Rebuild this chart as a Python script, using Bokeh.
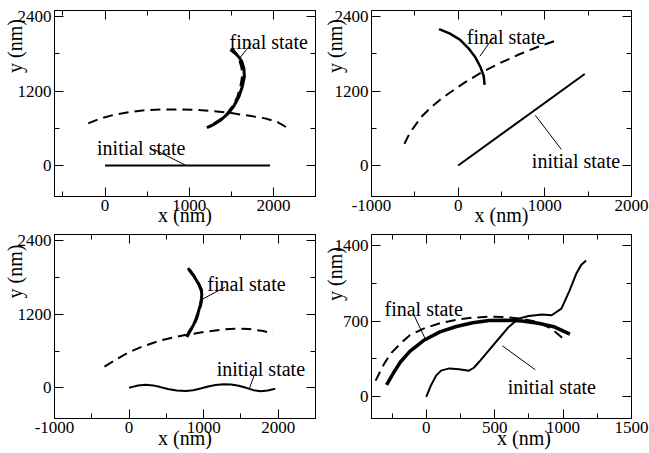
from bokeh.plotting import figure
from bokeh.models import Range1d, LinearAxis, FixedTicker, Label
from bokeh.layouts import column, row
from bokeh.embed import file_html
from bokeh.resources import INLINE

FONT = "Liberation Serif"
NB = "\u00a0"

# ---------------- data (nm) ----------------
# Panel 1 (top left)
p1_init_x = [0, 1960]
p1_init_y = [0, 0]
p1_mid_x = [-200, -50, 100, 300, 500, 700, 900, 1100, 1300, 1500, 1700, 1900, 2050, 2150]
p1_mid_y = [680, 760, 815, 865, 895, 905, 905, 895, 875, 845, 805, 760, 700, 620]
p1_final_x = [1210, 1290, 1380, 1460, 1530, 1590, 1630, 1655, 1650, 1625, 1590, 1545, 1490]
p1_final_y = [610, 660, 740, 835, 960, 1110, 1270, 1430, 1560, 1675, 1750, 1810, 1870]
p1_final2_x = [1290, 1380, 1460, 1525, 1575, 1610, 1630, 1625, 1600, 1565, 1515]
p1_final2_y = [670, 750, 850, 970, 1110, 1270, 1430, 1570, 1690, 1790, 1880]

# Panel 2 (top right)
p2_init_x = [0, 1460]
p2_init_y = [0, 1475]
p2_mid_x = [-620, -560, -500, -420, -320, -200, -60, 100, 280, 480, 700, 930, 1160]
p2_mid_y = [350, 520, 640, 790, 930, 1070, 1210, 1360, 1510, 1650, 1790, 1920, 2030]
p2_final_x = [-220, -100, 20, 120, 200, 260, 295, 305]
p2_final_y = [2200, 2130, 2030, 1890, 1740, 1580, 1440, 1300]

# Panel 3 (bottom left)
p3_init_x = [0, 60, 120, 220, 320, 420, 520, 640, 760, 860, 960, 1060, 1160, 1270, 1370, 1470, 1570, 1670, 1760, 1860, 1960]
p3_init_y = [0, 20, 38, 50, 40, 12, -20, -45, -50, -38, -10, 22, 45, 58, 55, 35, 0, -38, -55, -45, -15]
p3_mid_x = [-330, -150, 0, 170, 440, 750, 1000, 1250, 1420, 1600, 1780, 1930]
p3_mid_y = [345, 480, 580, 670, 780, 860, 910, 950, 965, 960, 930, 885]
p3_final_x = [773, 800, 830, 862, 900, 929, 955, 970, 975, 965, 929, 895, 862, 820, 790]
p3_final_y = [832, 900, 960, 1021, 1130, 1237, 1350, 1450, 1530, 1600, 1697, 1770, 1831, 1900, 1950]
p3_final2_x = [780, 810, 840, 870, 908, 937, 963, 978, 982, 972, 937, 903, 870, 828, 797]
p3_final2_y = [832, 900, 960, 1021, 1130, 1237, 1350, 1450, 1530, 1600, 1697, 1770, 1831, 1900, 1950]

# Panel 4 (bottom right)
p4_init_x = [0, 36, 72, 108, 168, 240, 312, 348, 387, 459, 531, 603, 675, 748, 800, 844, 916, 988, 1048, 1096, 1132, 1168]
p4_init_y = [0, 110, 196, 242, 263, 254, 242, 269, 324, 432, 539, 646, 723, 747, 755, 760, 754, 815, 983, 1137, 1219, 1259]
p4_final_x = [-290, -240, -190, -120, -20, 100, 220, 340, 460, 580, 700, 820, 940, 1050]
p4_final_y = [110, 220, 320, 420, 520, 600, 650, 685, 705, 708, 700, 680, 645, 580]
p4_mid_x = [-370, -310, -260, -190, -120, -10, 100, 220, 340, 460, 580, 700, 820, 920, 1000]
p4_mid_y = [150, 300, 400, 490, 570, 635, 680, 712, 732, 740, 738, 720, 690, 625, 540]

# ticks
p1_xmajor, p1_xminor = [0, 1000, 2000], [-500, 500, 1500, 2500]
p2_xmajor, p2_xminor = [-1000, 0, 1000, 2000], [-500, 500, 1500]
p3_xmajor, p3_xminor = [-1000, 0, 1000, 2000], [-500, 500, 1500, 2500]
p4_xmajor, p4_xminor = [0, 500, 1000, 1500], [-250, 250, 750, 1250]
big_ymajor, big_yminor = [0, 1200, 2400], [600, 1800]
p4_ymajor, p4_yminor = [0, 700, 1400], [350, 1050]

# annotation anchors (data coordinates)
p1_final_label, p1_final_leader = (1480, 2000), (1740, 1970, 1610, 1750)
p1_init_label, p1_init_leader = (-95, 290), (580, 260, 950, 10)
p2_final_label, p2_final_leader = (100, 2070), (410, 2080, 250, 1760)
p2_init_label, p2_init_leader = (850, 70), (1190, 260, 890, 810)
p3_final_label, p3_final_leader = (1050, 1700), (1285, 1640, 975, 1440)
p3_init_label, p3_init_leader = (1175, 315), (1680, 210, 1610, -20)
p4_final_label, p4_final_leader = (-305, 808), (-95, 770, -5, 530)
p4_init_label, p4_init_leader = (595, 88), (797, 250, 557, 471)


def style_axis(ax, major, minor, labels=True):
    ax.ticker = FixedTicker(ticks=major, minor_ticks=minor)
    ax.major_tick_in = 9
    ax.major_tick_out = 0
    ax.minor_tick_in = 5
    ax.minor_tick_out = 0
    ax.axis_line_color = "black"
    ax.major_tick_line_color = "black"
    ax.minor_tick_line_color = "black"
    if labels:
        ax.major_label_overrides = {t: str(t) for t in major}
        ax.major_label_text_font = FONT
        ax.major_label_text_font_size = "17px"
        ax.major_label_text_color = "black"
        ax.major_label_standoff = 3
        ax.axis_label_text_font = FONT
        ax.axis_label_text_font_size = "20px"
        ax.axis_label_text_font_style = "normal"
        ax.axis_label_text_color = "black"
    else:
        ax.major_label_overrides = {t: "" for t in major}
        ax.major_label_text_font_size = "0px"
        ax.major_label_standoff = 0
        ax.axis_label = None


def make_panel(xr, yr, xt, yt, width, height, bl, br, bt, bb, xlabel, xstand, ylabel, ystand):
    p = figure(width=width, height=height, x_range=Range1d(*xr), y_range=Range1d(*yr),
               output_backend="svg", toolbar_location=None,
               min_border_left=bl, min_border_right=br, min_border_top=bt, min_border_bottom=bb)
    p.grid.grid_line_color = None
    p.outline_line_color = "black"
    p.background_fill_color = "white"
    p.border_fill_color = "white"
    style_axis(p.xaxis[0], *xt)
    style_axis(p.yaxis[0], *yt)
    p.xaxis[0].axis_label = xlabel
    p.xaxis[0].axis_label_standoff = xstand
    p.yaxis[0].axis_label = ylabel
    p.yaxis[0].axis_label_standoff = ystand
    top = LinearAxis()
    style_axis(top, *xt, labels=False)
    p.add_layout(top, "above")
    right = LinearAxis()
    style_axis(right, *yt, labels=False)
    p.add_layout(right, "right")
    return p


def add_text(p, pos, text):
    p.add_layout(Label(x=pos[0], y=pos[1], text=text, text_font=FONT, text_font_size="20px",
                       text_align="left", text_baseline="alphabetic", text_color="black"))


def add_leader(p, seg):
    p.segment(x0=[seg[0]], y0=[seg[1]], x1=[seg[2]], y1=[seg[3]], line_color="black", line_width=1)


DASH = "10 6"
XL = "x (nm)"
YL = "y (nm)"

# Panel 1
p1 = make_panel((-600, 2500), (-500, 2500), (p1_xmajor, p1_xminor), (big_ymajor, big_yminor),
                320, 230, 51, 5, 10, 34, XL, -10, NB * 23 + YL, -11)
p1.line(p1_init_x, p1_init_y, line_color="black", line_width=2)
p1.line(p1_mid_x, p1_mid_y, line_color="black", line_width=2, line_dash=DASH)
p1.line(p1_final_x, p1_final_y, line_color="black", line_width=3)
p1.line(p1_final2_x, p1_final2_y, line_color="black", line_width=2.5, line_dash=DASH)
add_text(p1, p1_final_label, "final state")
add_leader(p1, p1_final_leader)
add_text(p1, p1_init_label, "initial state")
add_leader(p1, p1_init_leader)

# Panel 2
p2 = make_panel((-1000, 2000), (-500, 2500), (p2_xmajor, p2_xminor), (big_ymajor, big_yminor),
                329, 230, 47, 18, 10, 34, XL, -10, NB * 23 + YL, -14)
p2.line(p2_init_x, p2_init_y, line_color="black", line_width=2)
p2.line(p2_mid_x, p2_mid_y, line_color="black", line_width=2, line_dash=DASH)
p2.line(p2_final_x, p2_final_y, line_color="black", line_width=2.5)
add_text(p2, p2_final_label, "final state")
add_leader(p2, p2_final_leader)
add_text(p2, p2_init_label, "initial state")
add_leader(p2, p2_init_leader)

# Panel 3
p3 = make_panel((-1000, 2500), (-500, 2500), (p3_xmajor, p3_xminor), (big_ymajor, big_yminor),
                320, 223, 51, 5, 4, 35, XL, -9, NB * 22 + YL, -11)
p3.line(p3_init_x, p3_init_y, line_color="black", line_width=2)
p3.line(p3_mid_x, p3_mid_y, line_color="black", line_width=2, line_dash=DASH)
p3.line(p3_final_x, p3_final_y, line_color="black", line_width=3)
p3.line(p3_final2_x, p3_final2_y, line_color="black", line_width=2.5, line_dash=DASH)
add_text(p3, p3_final_label, "final state")
add_leader(p3, p3_final_leader)
add_text(p3, p3_init_label, "initial state")
add_leader(p3, p3_init_leader)

# Panel 4
p4 = make_panel((-400, 1500), (-200, 1500), (p4_xmajor, p4_xminor), (p4_ymajor, p4_yminor),
                329, 223, 47, 18, 4, 35, NB * 9 + XL, -9, NB * 21 + YL, -14)
p4.line(p4_init_x, p4_init_y, line_color="black", line_width=2)
p4.line(p4_mid_x, p4_mid_y, line_color="black", line_width=2, line_dash=DASH)
p4.line(p4_final_x, p4_final_y, line_color="black", line_width=3.5)
add_text(p4, p4_final_label, "final state")
add_leader(p4, p4_final_leader)
add_text(p4, p4_init_label, "initial state")
add_leader(p4, p4_init_leader)

layout = column(row(p1, p2), row(p3, p4))
open("out.html", "w").write(file_html(layout, INLINE))
